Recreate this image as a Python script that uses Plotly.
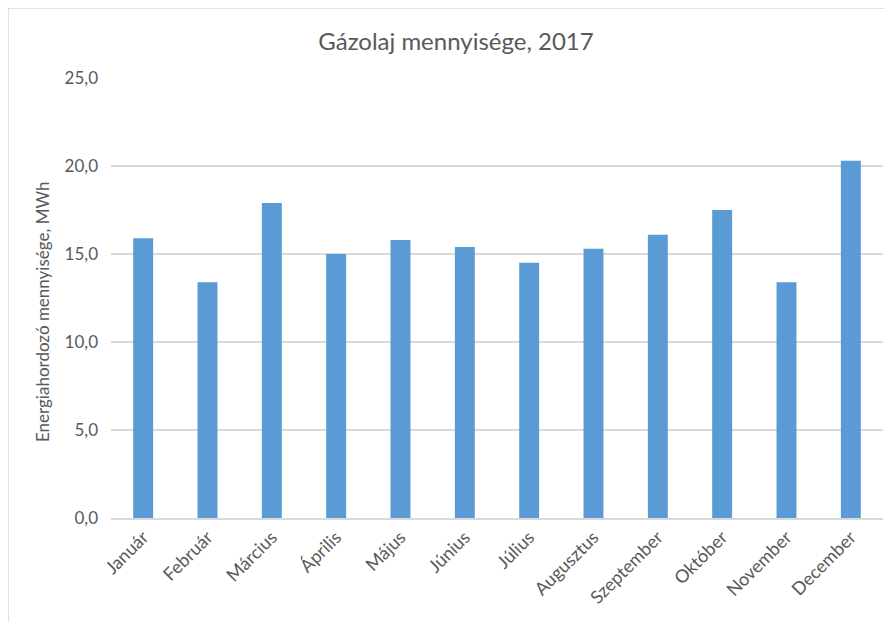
import plotly.graph_objects as go

months = ["Január", "Február", "Március", "Április", "Május", "Június",
          "Július", "Augusztus", "Szeptember", "Október", "November", "December"]
values = [15.9, 13.4, 17.9, 15.0, 15.8, 15.4, 14.5, 15.3, 16.1, 17.5, 13.4, 20.3]
y_ticks = [0, 5, 10, 15, 20, 25]

title_text = "Gázolaj mennyisége, 2017"
y_title = "Energiahordozó mennyisége, MWh"

FONT = "Lato"
GREY = "#595959"

fig = go.Figure(go.Bar(x=months, y=values, marker_color="#5B9BD5",
                       marker_line_width=0))

# page body has an 8px margin; figure is placed at (8, 8)
OFF = 8
W, H = 893 - OFF, 622 - OFF
L, R, T, B = 111 - OFF, 10, 78 - OFF, 104
pw, ph = W - L - R, H - T - B

def px_x(px):
    return (px - OFF - L) / pw

def px_y(py):
    return (H - B - (py - OFF)) / ph

fig.update_layout(
    width=W, height=H,
    margin=dict(l=L, r=R, t=T, b=B, autoexpand=False),
    paper_bgcolor="white", plot_bgcolor="white",
    separators=",.",
    bargap=0.69,
    showlegend=False,
    font=dict(family=FONT, size=17, color=GREY),
    title=dict(text=title_text, x=(456 - OFF) / W, xref="container", xanchor="center",
               y=1 - (42 - OFF) / H, yanchor="middle",
               font=dict(family=FONT, size=24, color=GREY)),
    xaxis=dict(tickangle=-45, showgrid=False, showline=True,
               linecolor="#D9D9D9", linewidth=1.5, ticks="",
               automargin=False,
               tickfont=dict(size=18, color=GREY)),
    yaxis=dict(range=[0, 25], tickvals=y_ticks, tickformat=".1f",
               showgrid=True, gridcolor="#D9D9D9", gridwidth=1.5,
               zeroline=False, showline=False, ticks="",
               automargin=False,
               ticklabelstandoff=12,
               tickfont=dict(size=17, color=GREY)),
    annotations=[dict(text=y_title, textangle=-90, xref="paper", yref="paper",
                      x=px_x(42), y=px_y(312), xanchor="center", yanchor="middle",
                      showarrow=False, font=dict(size=17, color=GREY))],
    shapes=[
        dict(type="line", xref="paper", yref="paper",
             x0=px_x(OFF), x1=px_x(900), y0=px_y(OFF), y1=px_y(OFF),
             line=dict(color="#D9D9D9", width=1.5)),
        dict(type="line", xref="paper", yref="paper",
             x0=px_x(OFF), x1=px_x(OFF), y0=px_y(OFF), y1=px_y(640),
             line=dict(color="#D9D9D9", width=1.5)),
    ],
)

fig.write_html("out.html")
